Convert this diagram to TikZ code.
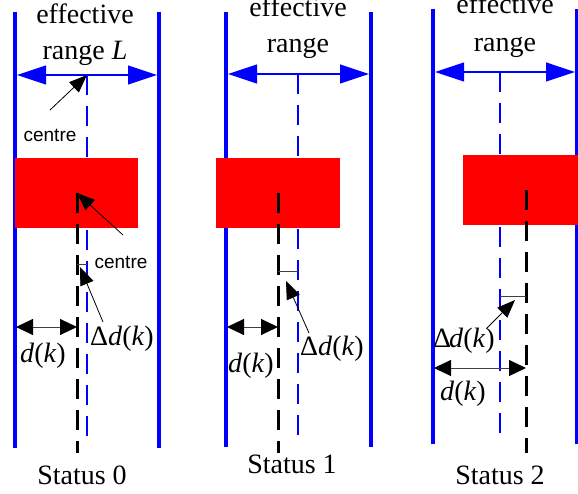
\documentclass[tikz,border=0pt]{standalone}
\usepackage{fontspec}
\setmainfont{Liberation Serif}
\newfontfamily\labelsans{Liberation Sans}
\usetikzlibrary{arrows.meta}
\begin{document}
\begin{tikzpicture}[x=1pt,y=-1pt,
  rail/.style={draw=blue, line width=4pt},
  axisdash/.style={draw=blue, line width=2.5pt, dash pattern=on 20pt off 11pt},
  objdash/.style={draw=black, line width=3pt, dash pattern=on 20pt off 11pt},
  block/.style={fill=red},
  rangearrow/.style={draw=blue, line width=1.2pt, {Triangle[length=29pt,width=19pt]}-{Triangle[length=29pt,width=19pt]}},
  darrow/.style={draw=black!75, line width=1pt, {Triangle[length=17pt,width=16pt,color=black,fill=black]}-{Triangle[length=17pt,width=16pt,color=black,fill=black]}},
  pointer/.style={draw=black, line width=0.8pt, -{Triangle[length=18pt,width=14pt]}},
  tick/.style={draw=black!75, line width=1pt},
  serif/.style={font=\fontsize{28}{30}\selectfont, inner sep=0pt, anchor=base},
  sanslabel/.style={font=\labelsans\fontsize{19}{21}\selectfont, inner sep=0pt, anchor=base}]
\useasboundingbox (0,0) rectangle (578,494);

% ---------------- Panel 0 ----------------
\coordinate (L0t) at (15,12);  \coordinate (L0b) at (15,448);
\coordinate (R0t) at (159,12); \coordinate (R0b) at (159,448);
\draw[rail] (L0t) -- (L0b);
\draw[rail] (R0t) -- (R0b);
\coordinate (A0l) at (17,75); \coordinate (A0r) at (157,75);
\draw[rangearrow] (A0l) -- (A0r);
\coordinate (C0t) at (87,75); \coordinate (C0b) at (87,440);
\draw[axisdash] (C0t) -- (C0b);
\fill[block] (15,158) rectangle (138,228);
\coordinate (O0t) at (77,193); \coordinate (O0b) at (77,453);
\draw[objdash] (O0t) -- (O0b);
\coordinate (T0a) at (77,265); \coordinate (T0b) at (87,265);
\draw[tick] (T0a) -- (T0b);
\coordinate (D0l) at (16,327); \coordinate (D0r) at (77,327);
\draw[darrow] (D0l) -- (D0r);
\node[serif] (eff0) at (85,24) {effective};
\node[serif] (rng0) at (85,60) {range \textit{L}};
\node[sanslabel] (cen0a) at (50,142) {centre};
\node[sanslabel] (cen0b) at (121,269) {centre};
\node[serif] (dd0) at (122,345) {Δ\textit{d}(\textit{k})};
\node[serif] (d0) at (43,362) {\textit{d}(\textit{k})};
\node[serif] (st0) at (82,484) {Status 0};
\coordinate (P0a) at (50,110); \coordinate (P0b) at (123,235); \coordinate (P0c) at (103,322);
\coordinate (P0t) at (80,267);
\draw[pointer] (P0a) -- (C0t);
\draw[pointer] (P0b) -- (O0t);
\draw[pointer] (P0c) -- (P0t);

% ---------------- Panel 1 ----------------
\coordinate (L1t) at (226,12);  \coordinate (L1b) at (226,447);
\coordinate (R1t) at (371,12); \coordinate (R1b) at (371,447);
\draw[rail] (L1t) -- (L1b);
\draw[rail] (R1t) -- (R1b);
\coordinate (A1l) at (228,74); \coordinate (A1r) at (369,74);
\draw[rangearrow] (A1l) -- (A1r);
\coordinate (C1t) at (298,74); \coordinate (C1b) at (298,440);
\draw[axisdash] (C1t) -- (C1b);
\fill[block] (216,158) rectangle (340,228);
\coordinate (O1t) at (278,193); \coordinate (O1b) at (278,453);
\draw[objdash] (O1t) -- (O1b);
\coordinate (T1a) at (278,272); \coordinate (T1b) at (298,272);
\draw[tick] (T1a) -- (T1b);
\coordinate (D1l) at (227,327); \coordinate (D1r) at (278,327);
\draw[darrow] (D1l) -- (D1r);
\node[serif] (eff1) at (298,17) {effective};
\node[serif] (rng1) at (298,53) {range};
\node[serif] (dd1) at (332,355) {Δ\textit{d}(\textit{k})};
\node[serif] (d1) at (251,372) {\textit{d}(\textit{k})};
\node[serif] (st1) at (292,473) {Status 1};
\coordinate (P1c) at (309,333); \coordinate (P1t) at (286,281);
\draw[pointer] (P1c) -- (P1t);

% ---------------- Panel 2 ----------------
\coordinate (L2t) at (433,9);  \coordinate (L2b) at (433,444);
\coordinate (R2t) at (577,9); \coordinate (R2b) at (577,444);
\draw[rail] (L2t) -- (L2b);
\draw[rail] (R2t) -- (R2b);
\coordinate (A2l) at (435,72); \coordinate (A2r) at (575,72);
\draw[rangearrow] (A2l) -- (A2r);
\coordinate (C2t) at (500,72); \coordinate (C2b) at (500,440);
\draw[axisdash] (C2t) -- (C2b);
\fill[block] (463,155) rectangle (582,225);
\coordinate (O2t) at (526,190); \coordinate (O2b) at (526,453);
\draw[objdash] (O2t) -- (O2b);
\coordinate (T2a) at (500,296); \coordinate (T2b) at (526,296);
\draw[tick] (T2a) -- (T2b);
\coordinate (D2l) at (434,368); \coordinate (D2r) at (526,368);
\draw[darrow] (D2l) -- (D2r);
\node[serif] (eff2) at (505,14) {effective};
\node[serif] (rng2) at (505,52) {range};
\node[serif] (dd2) at (464,347) {Δ\kern-2pt\textit{d}(\textit{k})};
\node[serif] (d2) at (463,400) {\textit{d}(\textit{k})};
\node[serif] (st2) at (500,484) {Status 2};
\coordinate (P2c) at (487,328); \coordinate (P2t) at (515,300);
\draw[pointer] (P2c) -- (P2t);
\end{tikzpicture}
\end{document}
